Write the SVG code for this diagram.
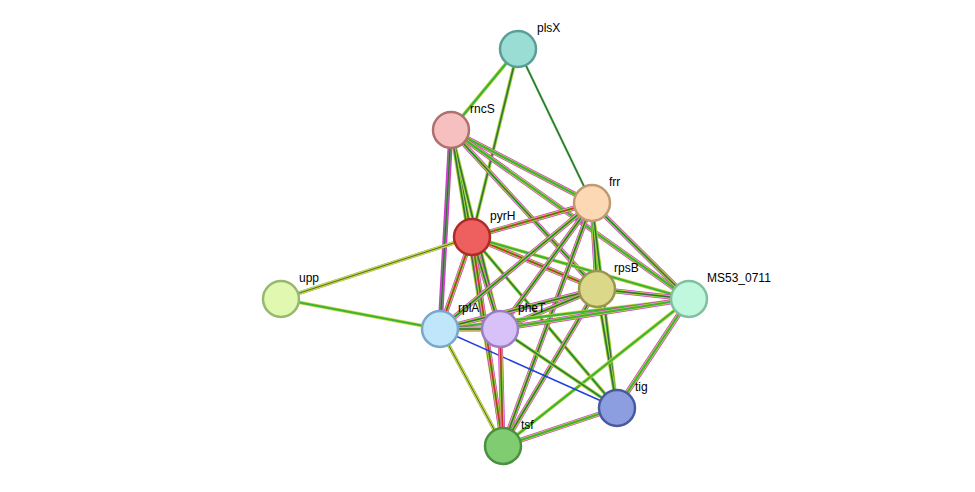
<svg xmlns="http://www.w3.org/2000/svg" xmlns:xlink="http://www.w3.org/1999/xlink" width="975" height="492" viewBox="0 0 975 492">
<style>
text{font-family:"Liberation Sans",Arial,sans-serif;font-size:12px;fill:#000}
.n{stroke-width:2.5}
.m{stroke:#d03cd0;stroke-width:5;fill:none}
.y{stroke:#c8d83c;stroke-width:3.6;fill:none}
.g{stroke:#3cb43c;stroke-width:2.2;fill:none}
.k{stroke:#444;stroke-width:0.8;fill:none}
.r{stroke:#e02020;stroke-width:1.1;fill:none}
.b{stroke:#2040e0;stroke-width:1.5;fill:none}
.c{stroke:#40b0e0;stroke-width:3.6;fill:none}
</style>
<defs>
<line id="e1" x1="518" y1="49" x2="451" y2="130"/>
<line id="e2" x1="518" y1="49" x2="472" y2="237"/>
<line id="e3" x1="518" y1="49" x2="592" y2="203"/>
<line id="e4" x1="451" y1="130" x2="472" y2="237"/>
<line id="e5" x1="451" y1="130" x2="592" y2="203"/>
<line id="e6" x1="451" y1="130" x2="597" y2="289"/>
<line id="e7" x1="451" y1="130" x2="440" y2="329"/>
<line id="e8" x1="451" y1="130" x2="500" y2="329"/>
<line id="e9" x1="451" y1="130" x2="503" y2="446"/>
<line id="e10" x1="451" y1="130" x2="689" y2="299"/>
<line id="e11" x1="472" y1="237" x2="592" y2="203"/>
<line id="e12" x1="472" y1="237" x2="597" y2="289"/>
<line id="e13" x1="472" y1="237" x2="689" y2="299"/>
<line id="e14" x1="472" y1="237" x2="440" y2="329"/>
<line id="e15" x1="472" y1="237" x2="500" y2="329"/>
<line id="e16" x1="472" y1="237" x2="503" y2="446"/>
<line id="e17" x1="472" y1="237" x2="617" y2="408"/>
<line id="e18" x1="592" y1="203" x2="597" y2="289"/>
<line id="e19" x1="592" y1="203" x2="689" y2="299"/>
<line id="e20" x1="592" y1="203" x2="440" y2="329"/>
<line id="e21" x1="592" y1="203" x2="500" y2="329"/>
<line id="e22" x1="592" y1="203" x2="503" y2="446"/>
<line id="e23" x1="592" y1="203" x2="617" y2="408"/>
<line id="e24" x1="281" y1="299" x2="472" y2="237"/>
<line id="e25" x1="281" y1="299" x2="440" y2="329"/>
<line id="e26" x1="597" y1="289" x2="689" y2="299"/>
<line id="e27" x1="597" y1="289" x2="440" y2="329"/>
<line id="e28" x1="597" y1="289" x2="500" y2="329"/>
<line id="e29" x1="597" y1="289" x2="503" y2="446"/>
<line id="e30" x1="597" y1="289" x2="617" y2="408"/>
<line id="e31" x1="689" y1="299" x2="440" y2="329"/>
<line id="e32" x1="689" y1="299" x2="500" y2="329"/>
<line id="e33" x1="689" y1="299" x2="617" y2="408"/>
<line id="e34" x1="689" y1="299" x2="503" y2="446"/>
<line id="e35" x1="440" y1="329" x2="500" y2="329"/>
<line id="e36" x1="440" y1="329" x2="503" y2="446"/>
<line id="e37" x1="440" y1="329" x2="617" y2="408"/>
<line id="e38" x1="500" y1="329" x2="503" y2="446"/>
<line id="e39" x1="500" y1="329" x2="617" y2="408"/>
<line id="e40" x1="503" y1="446" x2="617" y2="408"/>
</defs>
<g id="connectors">
<use href="#e1" class="y"/><use href="#e1" class="g"/>
<use href="#e2" class="y"/><use href="#e2" class="g"/><use href="#e2" class="k"/>
<use href="#e3" class="g"/><use href="#e3" class="k"/>
<use href="#e4" class="y"/><use href="#e4" class="g"/><use href="#e4" class="k"/>
<use href="#e5" class="m"/><use href="#e5" class="y"/><use href="#e5" class="g"/>
<use href="#e6" class="m"/><use href="#e6" class="y"/><use href="#e6" class="g"/><use href="#e6" class="k"/>
<use href="#e7" class="m"/><use href="#e7" class="g"/><use href="#e7" class="k"/>
<use href="#e8" class="y"/><use href="#e8" class="g"/><use href="#e8" class="k"/>
<use href="#e9" class="y"/><use href="#e9" class="g"/><use href="#e9" class="k"/>
<use href="#e10" class="m"/><use href="#e10" class="y"/><use href="#e10" class="g"/>
<use href="#e11" class="m"/><use href="#e11" class="y"/><use href="#e11" class="g"/><use href="#e11" class="r"/>
<use href="#e12" class="m"/><use href="#e12" class="y"/><use href="#e12" class="g"/><use href="#e12" class="r"/>
<use href="#e13" class="y"/><use href="#e13" class="g"/>
<use href="#e14" class="m"/><use href="#e14" class="y"/><use href="#e14" class="g"/><use href="#e14" class="r"/>
<use href="#e15" class="m"/><use href="#e15" class="y"/><use href="#e15" class="g"/><use href="#e15" class="k"/>
<use href="#e16" class="m"/><use href="#e16" class="y"/><use href="#e16" class="g"/><use href="#e16" class="r"/>
<use href="#e17" class="y"/><use href="#e17" class="g"/><use href="#e17" class="k"/>
<use href="#e18" class="m"/><use href="#e18" class="y"/><use href="#e18" class="g"/><use href="#e18" class="k"/>
<use href="#e19" class="m"/><use href="#e19" class="y"/><use href="#e19" class="g"/><use href="#e19" class="k"/>
<use href="#e20" class="m"/><use href="#e20" class="y"/><use href="#e20" class="g"/><use href="#e20" class="k"/>
<use href="#e21" class="m"/><use href="#e21" class="y"/><use href="#e21" class="g"/><use href="#e21" class="k"/>
<use href="#e22" class="m"/><use href="#e22" class="y"/><use href="#e22" class="g"/><use href="#e22" class="k"/>
<use href="#e23" class="y"/><use href="#e23" class="g"/><use href="#e23" class="k"/>
<use href="#e24" class="c"/><use href="#e24" class="y"/><use href="#e24" class="k"/>
<use href="#e25" class="y"/><use href="#e25" class="g"/>
<use href="#e26" class="m"/><use href="#e26" class="y"/><use href="#e26" class="g"/><use href="#e26" class="k"/>
<use href="#e27" class="m"/><use href="#e27" class="y"/><use href="#e27" class="g"/><use href="#e27" class="k"/>
<use href="#e28" class="m"/><use href="#e28" class="y"/><use href="#e28" class="g"/><use href="#e28" class="k"/>
<use href="#e29" class="m"/><use href="#e29" class="y"/><use href="#e29" class="g"/><use href="#e29" class="k"/>
<use href="#e30" class="y"/><use href="#e30" class="g"/><use href="#e30" class="k"/>
<use href="#e31" class="y"/><use href="#e31" class="g"/>
<use href="#e32" class="m"/><use href="#e32" class="y"/><use href="#e32" class="g"/>
<use href="#e33" class="m"/><use href="#e33" class="y"/><use href="#e33" class="g"/>
<use href="#e34" class="y"/><use href="#e34" class="g"/>
<use href="#e35" class="m"/><use href="#e35" class="y"/><use href="#e35" class="g"/><use href="#e35" class="k"/>
<use href="#e36" class="c"/><use href="#e36" class="y"/><use href="#e36" class="k"/>
<use href="#e37" class="b"/>
<use href="#e38" class="m"/><use href="#e38" class="y"/><use href="#e38" class="g"/><use href="#e38" class="r"/>
<use href="#e39" class="y"/><use href="#e39" class="g"/><use href="#e39" class="k"/>
<use href="#e40" class="m"/><use href="#e40" class="y"/><use href="#e40" class="g"/>
</g>
<g id="plsX"><circle class="n" cx="518" cy="49" r="18" fill="#99ddd5" stroke="#5a9e96"/><text x="537" y="32">plsX</text></g>
<g id="rncS"><circle class="n" cx="451" cy="130" r="18" fill="#f7c0c0" stroke="#b07070"/><text x="470" y="113">rncS</text></g>
<g id="frr"><circle class="n" cx="592" cy="203" r="18" fill="#fdd8b5" stroke="#c09a70"/><text x="609" y="186">frr</text></g>
<g id="pyrH"><circle class="n" cx="472" cy="237" r="18" fill="#ee6060" stroke="#b02a2a"/><text x="490" y="220">pyrH</text></g>
<g id="upp"><circle class="n" cx="281" cy="299" r="18" fill="#e0f8b0" stroke="#98b870"/><text x="299" y="282">upp</text></g>
<g id="rpsB"><circle class="n" cx="597" cy="289" r="18" fill="#dcd88a" stroke="#9a9650"/><text x="614" y="272">rpsB</text></g>
<g id="MS53_0711"><circle class="n" cx="689" cy="299" r="18" fill="#c0f8de" stroke="#80c0a0"/><text x="707" y="282">MS53_0711</text></g>
<g id="rplA"><circle class="n" cx="440" cy="329" r="18" fill="#bfe6fa" stroke="#7aa8c8"/><text x="458" y="312">rplA</text></g>
<g id="pheT"><circle class="n" cx="500" cy="329" r="18" fill="#d8c0f8" stroke="#9a80c0"/><text x="518" y="312">pheT</text></g>
<g id="tig"><circle class="n" cx="617" cy="408" r="18" fill="#8c9ee0" stroke="#4a5aa0"/><text x="635" y="391">tig</text></g>
<g id="tsf"><circle class="n" cx="503" cy="446" r="18" fill="#80cc70" stroke="#4a9040"/><text x="521" y="429">tsf</text></g>
</svg>
